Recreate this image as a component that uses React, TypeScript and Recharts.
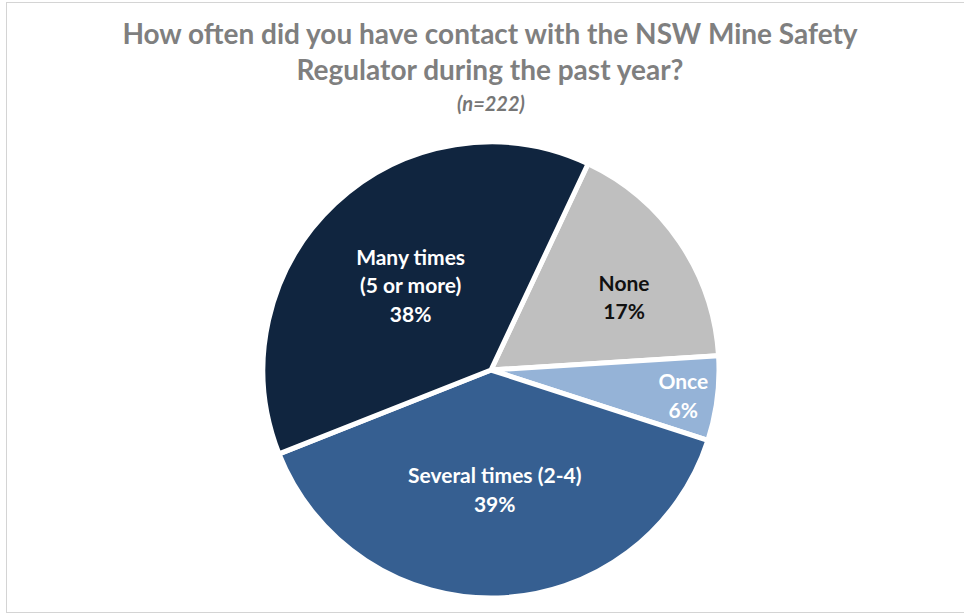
import React from "react";
import { PieChart, Pie, Cell } from "recharts";

const categories = ["None", "Once", "Several times (2-4)", "Many times (5 or more)"];
const shares = [17, 6, 39, 38];
const sliceColors = ["#BFBFBF", "#95B3D7", "#365F91", "#10253F"];
const labelColors = ["#111111", "#FFFFFF", "#FFFFFF", "#FFFFFF"];
const titleLines = [
  "How often did you have contact with the NSW Mine Safety",
  "Regulator during the past year?",
];
const subtitle = "(n=222)";

const data = categories.map((name, i) => ({ name, value: shares[i] }));

const W = 964;
const H = 615;
const CX = 491;
const CY = 370;
const R = 228;
const START = 64.8;
const RAD = Math.PI / 180;
const FONT = "Lato, 'Open Sans', sans-serif";
const labelPlacement: Record<string, { f: number; da: number }> = {
  "None": { f: 0.668, da: -5.1 },
  "Once": { f: 0.85, da: 0 },
  "Several times (2-4)": { f: 0.52, da: 0 },
  "Many times (5 or more)": { f: 0.515, da: 0 },
};

function splitName(name: string): string[] {
  if (name.length > 20 && name.indexOf(" (") > 0) {
    const k = name.indexOf(" (");
    return [name.slice(0, k), name.slice(k + 1)];
  }
  return [name];
}

const renderLabel = (props: any) => {
  const { cx, cy, midAngle, outerRadius, name, value, index } = props;
  const p = labelPlacement[name] ?? { f: 0.6, da: 0 };
  const r = outerRadius * p.f;
  const a = midAngle + p.da;
  const x = cx + r * Math.cos(-a * RAD);
  const y = cy + r * Math.sin(-a * RAD);
  const lines = [...splitName(name), `${value}%`];
  const lh = 28.5;
  const y0 = y - ((lines.length - 1) * lh) / 2;
  return (
    <text
      x={x}
      y={y0}
      fill={labelColors[index]}
      textAnchor="middle"
      dominantBaseline="central"
      style={{ fontFamily: FONT, fontWeight: 700, fontSize: 21 }}
    >
      {lines.map((t, i) => (
        <tspan key={i} x={x} y={y0 + i * lh} dominantBaseline="central">
          {t}
        </tspan>
      ))}
    </text>
  );
};

export default function App() {
  return (
    <div style={{ position: "absolute", left: 0, top: 0, width: W, height: H, background: "#fff", overflow: "hidden" }}>
      <div
        style={{
          position: "absolute",
          left: 6,
          top: 2,
          width: W,
          height: 609,
          borderTop: "1px solid #D4D4D4",
          borderLeft: "1px solid #D4D4D4",
          borderBottom: "1px solid #D4D4D4",
        }}
      />
      <svg width={W} height={130} style={{ position: "absolute", left: 0, top: 0 }}>
        <text x={490} y={44} textAnchor="middle" fill="#7F7F7F" style={{ fontFamily: FONT, fontWeight: 700, fontSize: 28 }}>
          {titleLines[0]}
        </text>
        <text x={490} y={80} textAnchor="middle" fill="#7F7F7F" style={{ fontFamily: FONT, fontWeight: 700, fontSize: 28 }}>
          {titleLines[1]}
        </text>
        <text x={491} y={111} textAnchor="middle" fill="#767676" style={{ fontFamily: FONT, fontStyle: "italic", fontWeight: 700, fontSize: 20 }}>
          {subtitle}
        </text>
      </svg>
      <div style={{ position: "absolute", left: 0, top: 0 }}>
        <PieChart width={W} height={H} margin={{ top: 0, right: 0, bottom: 0, left: 0 }}>
          <Pie
            data={data}
            dataKey="value"
            nameKey="name"
            cx={CX}
            cy={CY}
            outerRadius={R}
            startAngle={START}
            endAngle={START - 360}
            stroke="#FFFFFF"
            strokeWidth={5}
            label={renderLabel}
            labelLine={false}
            isAnimationActive={false}
          >
            {data.map((d, i) => (
              <Cell key={d.name} fill={sliceColors[i]} />
            ))}
          </Pie>
        </PieChart>
      </div>
    </div>
  );
}
